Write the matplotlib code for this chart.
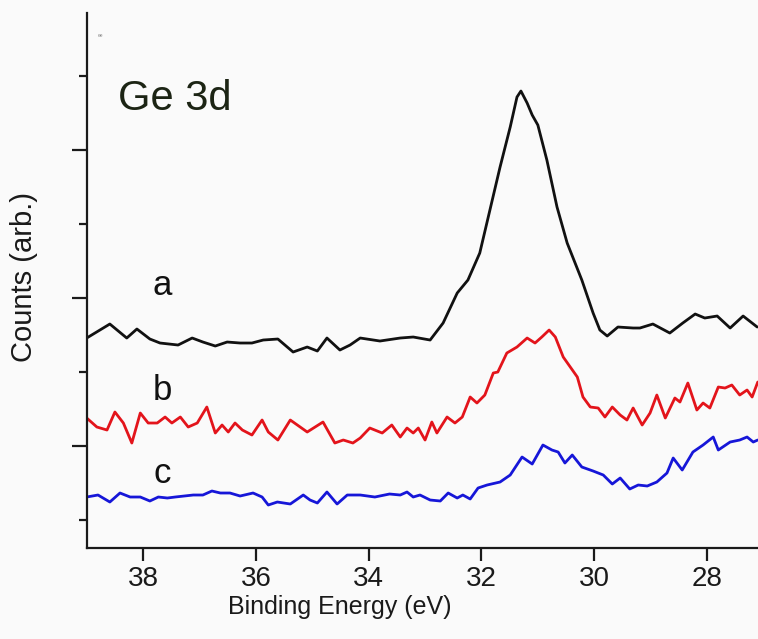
import matplotlib
matplotlib.use("Agg")
import matplotlib.pyplot as plt
from matplotlib.ticker import MultipleLocator, NullFormatter

# Ge 3d XPS spectra, counts in arbitrary units (already offset per trace)
energy_a = [39.00, 38.59, 38.29, 38.11, 37.88, 37.70, 37.38, 37.13, 36.94, 36.72,
            36.51, 36.28, 36.07, 35.87, 35.61, 35.34, 35.09, 34.91, 34.74, 34.51,
            34.33, 34.15, 33.80, 33.44, 33.21, 32.91, 32.68, 32.43, 32.24, 32.03,
            31.85, 31.67, 31.49, 31.37, 31.30, 31.19, 31.10, 31.00, 30.84, 30.66,
            30.48, 30.22, 30.02, 29.90, 29.77, 29.58, 29.31, 29.19, 28.96, 28.66,
            28.43, 28.21, 28.04, 27.82, 27.59, 27.36, 27.11]
counts_a = [210, 224, 210, 219, 209, 205, 203, 210, 206, 202,
            206, 205, 205, 208, 209, 196, 201, 197, 210, 198,
            203, 210, 207, 210, 211, 208, 225, 255, 268, 295,
            338, 381, 421, 451, 457, 445, 433, 423, 388, 341,
            305, 268, 235, 218, 212, 221, 220, 220, 224, 215,
            225, 234, 230, 232, 220, 232, 221]

energy_b = [39.00, 38.82, 38.64, 38.50, 38.35, 38.20, 38.05, 37.91, 37.75, 37.61,
            37.49, 37.34, 37.20, 37.04, 36.87, 36.72, 36.60, 36.49, 36.37, 36.24,
            36.07, 35.89, 35.78, 35.61, 35.39, 35.09, 34.81, 34.60, 34.45, 34.28,
            34.15, 33.98, 33.76, 33.59, 33.44, 33.32, 33.21, 33.12, 33.00, 32.88,
            32.79, 32.61, 32.47, 32.34, 32.20, 32.08, 31.94, 31.79, 31.71, 31.55,
            31.37, 31.19, 31.05, 30.93, 30.80, 30.69, 30.55, 30.30, 30.20, 30.07,
            29.93, 29.81, 29.68, 29.54, 29.42, 29.31, 29.15, 29.01, 28.89, 28.74,
            28.57, 28.48, 28.34, 28.18, 28.07, 27.95, 27.80, 27.68, 27.56, 27.42,
            27.29, 27.20, 27.10]
counts_b = [130, 121, 118, 136, 125, 105, 135, 125, 125, 131,
            125, 131, 121, 125, 141, 115, 123, 116, 125, 118,
            113, 128, 116, 108, 128, 116, 126, 105, 108, 105,
            110, 120, 115, 123, 111, 120, 115, 120, 108, 126,
            115, 131, 125, 131, 151, 145, 153, 175, 176, 195,
            201, 210, 205, 211, 218, 211, 191, 171, 151, 141,
            140, 131, 141, 133, 128, 140, 123, 135, 153, 130,
            150, 146, 165, 138, 145, 140, 161, 160, 163, 153,
            158, 151, 166]

energy_c = [39.00, 38.80, 38.59, 38.41, 38.23, 38.05, 37.88, 37.73, 37.57, 37.43,
            37.11, 36.94, 36.78, 36.63, 36.46, 36.28, 36.05, 35.89, 35.78, 35.62,
            35.39, 35.16, 35.04, 34.91, 34.74, 34.56, 34.38, 34.15, 33.89, 33.63,
            33.44, 33.32, 33.21, 33.09, 32.91, 32.73, 32.59, 32.43, 32.33, 32.20,
            32.06, 31.90, 31.67, 31.49, 31.28, 31.10, 30.91, 30.75, 30.64, 30.52,
            30.39, 30.22, 30.02, 29.84, 29.68, 29.54, 29.37, 29.22, 29.06, 28.89,
            28.71, 28.60, 28.44, 28.25, 28.07, 27.89, 27.80, 27.59, 27.42, 27.29,
            27.18, 27.10]
counts_c = [51, 53, 46, 55, 51, 51, 47, 51, 50, 51,
            53, 53, 57, 55, 55, 52, 55, 51, 43, 46,
            44, 53, 48, 45, 56, 44, 53, 53, 51, 54,
            53, 56, 51, 53, 48, 47, 55, 50, 53, 49,
            60, 63, 66, 73, 91, 84, 103, 98, 96, 85,
            93, 81, 77, 73, 64, 70, 59, 63, 62, 66,
            75, 90, 78, 96, 103, 111, 98, 106, 108, 111,
            106, 108]

trace_labels = ["a", "b", "c"]
bg = "#fafafa"
plt.rcParams["font.family"] = ["Liberation Sans", "DejaVu Sans"]

fig = plt.figure(figsize=(7.58, 6.39), dpi=100, facecolor=bg)
ax = fig.add_axes([0.1144, 0.1424, 0.8856, 0.8372], facecolor=bg)

line_kw = dict(lw=2.0, solid_joinstyle="round", solid_capstyle="round")
ax.plot(energy_a, counts_a, color="#111111", **line_kw)
ax.plot(energy_b, counts_b, color="#e3141b", **line_kw)
ax.plot(energy_c, counts_c, color="#1616d8", **line_kw)

ax.set_xlim(39.0, 27.096)
ax.set_ylim(0, 535)

for s in ["top", "right"]:
    ax.spines[s].set_visible(False)
for s in ["left", "bottom"]:
    ax.spines[s].set_linewidth(1.6)
    ax.spines[s].set_color("#1a1a1a")

ax.xaxis.set_major_locator(MultipleLocator(2))
ax.tick_params(axis="x", which="major", length=9, width=1.6, color="#1a1a1a",
               pad=4, labelsize=20, labelcolor="#1a1a1a")

ax.yaxis.set_major_locator(MultipleLocator(148, offset=102))
ax.yaxis.set_minor_locator(MultipleLocator(74, offset=28))
ax.yaxis.set_major_formatter(NullFormatter())
ax.tick_params(axis="y", which="major", length=11, width=1.6, color="#1a1a1a")
ax.tick_params(axis="y", which="minor", length=6, width=1.6, color="#1a1a1a")

ax.set_xlabel("Binding Energy (eV)", fontsize=18, color="#1a1a1a")
ax.xaxis.set_label_coords(0.377, -0.087)
ax.set_ylabel("Counts (arb.)", fontsize=21, color="#1a1a1a")
ax.yaxis.set_label_coords(-0.073, 0.506)

ax.text(0.0466, 0.819, "Ge 3d", transform=ax.transAxes, fontsize=30,
        color="#1c2414", ha="left", va="baseline")
ax.text(0.017, 0.956, "ee", transform=ax.transAxes, fontsize=3.5,
        color="#888888")

label_y = [0.473, 0.2766, 0.1215]
for name, y in zip(trace_labels, label_y):
    ax.text(0.113, y, name, transform=ax.transAxes, fontsize=25,
            color="#111111", ha="center", va="baseline")

fig.savefig("out.png", dpi=100, facecolor=bg)
